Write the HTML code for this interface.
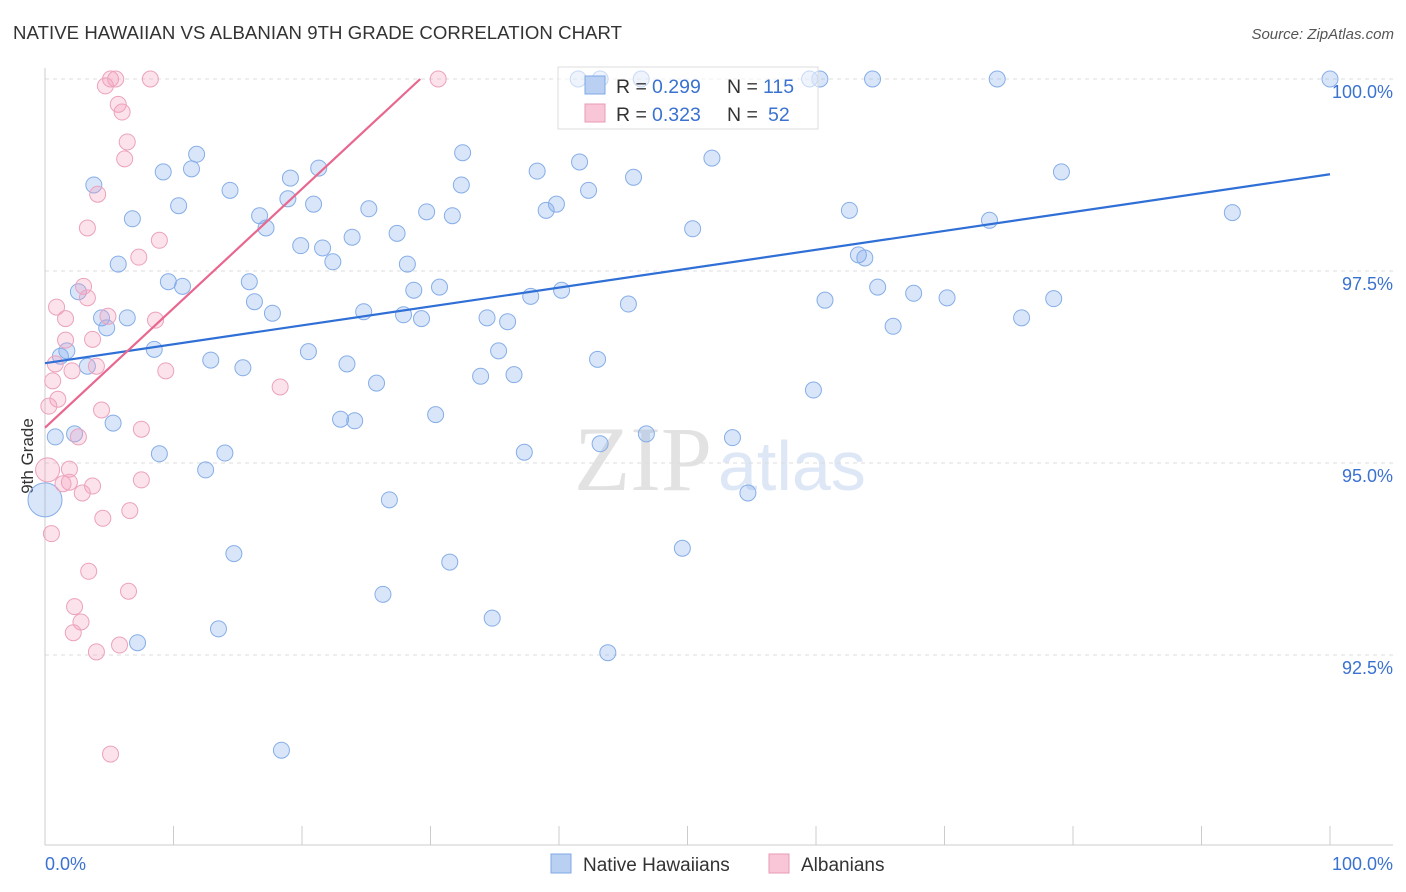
<!DOCTYPE html>
<html><head><meta charset="utf-8"><style>
body{margin:0;background:#fff;font-family:"Liberation Sans",sans-serif}
#c{position:relative;width:1406px;height:892px;overflow:hidden}
</style></head><body>
<div id="c">
<svg id="s" width="1406" height="892">
<text x="13" y="39" font-size="18.6" fill="#333" textLength="609">NATIVE HAWAIIAN VS ALBANIAN 9TH GRADE CORRELATION CHART</text>
<text x="1394" y="39" font-size="15" fill="#555" font-style="italic" text-anchor="end">Source: ZipAtlas.com</text>
<text x="712" y="490" font-size="92" fill="#e2e2e2" font-family="Liberation Serif" text-anchor="end">ZIP</text>
<text x="718" y="490" font-size="70" fill="#dde7f6">atlas</text>
<text transform="translate(33,456) rotate(-90)" font-size="17" fill="#333" text-anchor="middle">9th Grade</text>
<g id="grid"></g><g id="marks"></g>
<g>
<rect x="558" y="67" width="260" height="62" fill="rgba(255,255,255,0.55)" stroke="#ddd"/>
<rect x="585" y="76" width="20" height="18" fill="#b9d0f3" stroke="#7fa8e6"/>
<text x="616" y="93" font-size="19.5" fill="#333">R =</text><text x="652" y="93" font-size="19.5" fill="#3a72d0">0.299</text>
<text x="727" y="93" font-size="19.5" fill="#333">N =</text><text x="763" y="93" font-size="19.5" fill="#3a72d0">115</text>
<rect x="585" y="104" width="20" height="18" fill="#f8c6d6" stroke="#e89ab5"/>
<text x="616" y="121" font-size="19.5" fill="#333">R =</text><text x="652" y="121" font-size="19.5" fill="#3a72d0">0.323</text>
<text x="727" y="121" font-size="19.5" fill="#333">N =</text><text x="768" y="121" font-size="19.5" fill="#3a72d0">52</text>
</g>
<g>
<rect x="551" y="854" width="20" height="19" fill="#b9d0f3" stroke="#7fa8e6"/>
<text x="583" y="871" font-size="19" fill="#333">Native Hawaiians</text>
<rect x="769" y="854" width="20" height="19" fill="#f8c6d6" stroke="#e89ab5"/>
<text x="801" y="871" font-size="19" fill="#333">Albanians</text>
</g>
</svg></div>
<script>
const blueX=[41.5,46.4,59.5,60.3,64.4,74.1,100,43.2,11.8,9.2,11.4,3.8,14.4,19.1,21.3,18.9,20.9,10.4,6.8,16.7,17.2,25.2,29.7,31.7,32.5,32.4,38.3,41.6,42.3,45.8,51.9,39.0,39.8,50.4,62.6,73.5,79.1,92.4,19.9,21.6,23.9,27.4,22.4,28.2,5.7,9.6,10.7,15.9,16.3,17.7,2.6,4.4,6.4,4.8,28.7,30.7,37.8,40.2,45.4,24.8,27.9,29.3,34.4,36.0,63.3,63.8,64.8,67.6,70.2,60.7,66.0,76.0,78.5,1.7,1.2,3.3,8.5,12.9,15.4,20.5,23.5,25.8,33.9,35.3,36.5,43.0,59.8,0.8,5.3,2.3,8.9,14.0,12.5,23.0,24.1,30.4,37.3,43.2,46.8,53.5,54.7,26.8,0,14.7,31.5,49.6,26.3,13.5,34.8,7.2,43.8,18.4];
const blueY=[100,100,100,100,100,100,100,100,99.02,98.79,98.83,98.62,98.55,98.71,98.84,98.44,98.37,98.35,98.18,98.22,98.06,98.31,98.27,98.22,99.04,98.62,98.80,98.92,98.55,98.72,98.97,98.29,98.37,98.05,98.29,98.16,98.79,98.26,97.83,97.80,97.94,97.99,97.62,97.59,97.59,97.36,97.30,97.36,97.10,96.95,97.23,96.89,96.89,96.76,97.25,97.29,97.17,97.25,97.07,96.97,96.93,96.88,96.89,96.84,97.71,97.67,97.29,97.21,97.15,97.12,96.78,96.89,97.14,96.46,96.39,96.26,96.48,96.34,96.24,96.45,96.29,96.04,96.13,96.46,96.15,96.35,95.95,95.34,95.52,95.38,95.12,95.13,94.91,95.57,95.55,95.63,95.14,95.25,95.38,95.33,94.61,94.52,94.52,93.82,93.71,93.89,93.29,92.84,92.98,92.66,92.53,91.26];
const pinkX=[5.1,5.5,8.2,30.6,4.7,5.7,6.0,6.4,6.2,4.1,3.3,8.9,7.3,3.0,3.3,0.9,1.6,4.9,8.6,3.7,1.6,0.8,2.1,4.0,9.4,0.6,18.3,1.0,0.3,4.4,7.5,2.6,1.9,0.2,1.4,1.9,3.7,2.9,7.5,6.6,4.5,0.5,3.4,2.3,2.8,2.2,6.5,4.0,5.8,5.1];
const pinkY=[100,100,100,100,99.91,99.67,99.57,99.18,98.96,98.50,98.06,97.90,97.68,97.30,97.15,97.03,96.88,96.91,96.86,96.61,96.60,96.29,96.20,96.26,96.20,96.07,95.99,95.83,95.74,95.69,95.44,95.34,94.92,94.91,94.73,94.75,94.70,94.61,94.78,94.38,94.28,94.08,93.59,93.13,92.93,92.79,93.33,92.54,92.63,91.21];
const blueTrend=[96.30,98.76];
const pinkTrend=[95.46,100,29.2];
const yTicks=[100,97.5,95,92.5];
const yTickLabels=["100.0%","97.5%","95.0%","92.5%"];
const NS='http://www.w3.org/2000/svg';
const xs=v=>45+v*12.85, ys=v=>79+(100-v)*76.8;
function mk(t,a,p){const e=document.createElementNS(NS,t);for(const k in a)e.setAttribute(k,a[k]);p.appendChild(e);return e;}
const g=document.getElementById('grid'),m=document.getElementById('marks');
yTicks.forEach((t,i)=>{
 const l=mk('line',{x1:45,x2:1393,y1:ys(t),y2:ys(t),stroke:'#ddd','stroke-dasharray':'4,4'},g);
 
 
 const tx=mk('text',{x:1393,y:ys(t)+19,'font-size':18,fill:'#3a72d0','text-anchor':'end'},g);tx.textContent=yTickLabels[i];
 
 
});
mk('line',{x1:45,x2:45,y1:68,y2:845,stroke:'#ccc'},g);
mk('line',{x1:45,x2:1393,y1:845,y2:845,stroke:'#ccc'},g);
for(let i=0;i<=10;i++){const t=mk('line',{x1:xs(i*10),x2:xs(i*10),y1:826,y2:845,stroke:'#ccc'},g);
 
 }
const x0=mk('text',{x:45,y:870,'font-size':18,fill:'#3a72d0'},g);x0.textContent='0.0%';


const x1=mk('text',{x:1393,y:870,'font-size':18,fill:'#3a72d0','text-anchor':'end'},g);x1.textContent='100.0%';


blueX.forEach((x,i)=>{const big=(x===0);const c=mk('circle',{cx:xs(x),cy:ys(blueY[i]),r:big?17:8,fill:'rgba(130,170,235,0.3)',stroke:'#86aee8','stroke-width':1},m);
 
 });
pinkX.forEach((x,i)=>{const big=(x===0.2);const c=mk('circle',{cx:xs(x),cy:ys(pinkY[i]),r:big?12:8,fill:'rgba(245,160,190,0.3)',stroke:'#eca2bd','stroke-width':1},m);
 
 });
const bl=mk('line',{x1:xs(0),y1:ys(blueTrend[0]),x2:xs(100),y2:ys(blueTrend[1]),stroke:'#2f6fd6','stroke-width':2.2},m);


const pl=mk('line',{x1:xs(0),y1:ys(pinkTrend[0]),x2:xs(pinkTrend[2]),y2:ys(pinkTrend[1]),stroke:'#e8678f','stroke-width':2.2},m);


</script>
</body></html>
